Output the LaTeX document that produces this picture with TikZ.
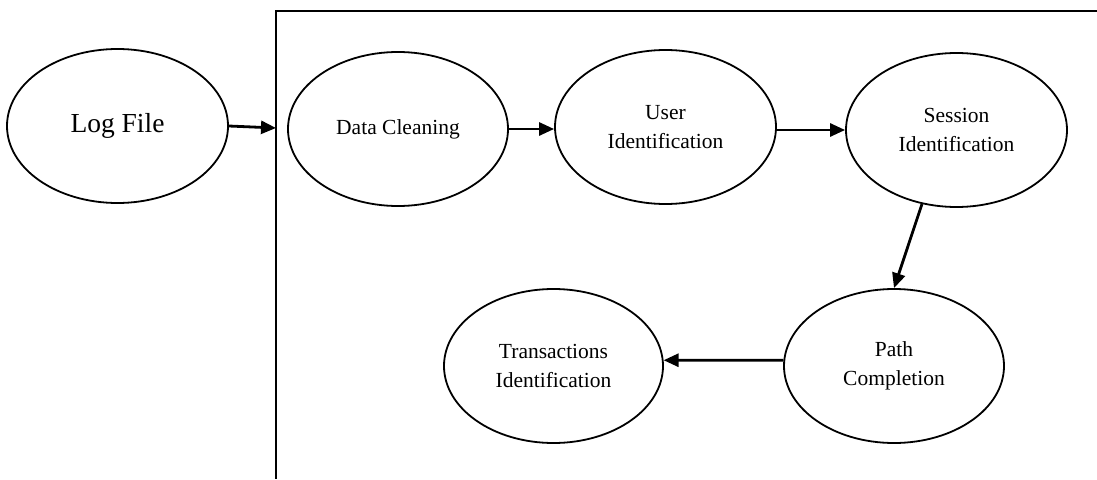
\documentclass[tikz,border=0pt]{standalone}
\usepackage{fontspec}
\setmainfont{Liberation Serif}
\usetikzlibrary{shapes.geometric,arrows.meta}
\begin{document}
\begin{tikzpicture}[x=1pt,y=-1pt,
  proc/.style={ellipse,draw,line width=1.8pt,minimum width=221pt,minimum height=154pt,inner sep=0pt,align=center,font=\fontsize{21.5}{28.5}\selectfont},
  flow/.style={line width=2.8pt,-{Triangle[length=15pt,width=13pt]}},
  frame/.style={line width=2.4pt}]
\path[fill=white,use as bounding box] (0,0) rectangle (1097,479);
\node[proc,font=\fontsize{27.5}{32}\selectfont] (log) at (117.5,126) {Log File};
\node[proc,minimum width=220pt] (dc) at (398,129) {Data Cleaning};
\node[proc] (ui) at (665.5,127) {User\\Identification};
\node[proc] (si) at (956.5,130) {Session\\Identification};
\node[proc,minimum width=220pt] (pc) at (894,366) {Path\\Completion};
\node[proc,minimum width=219pt] (ti) at (553.5,366) {Transactions\\Identification};
\coordinate (boxtl) at (276,11);
\coordinate (boxtr) at (1097,11);
\coordinate (boxbl) at (276,479);
\coordinate (boxin) at (276,128);
\draw[frame] (boxtr) -- (boxtl) -- (boxbl);
\draw[flow] (log.east) -- (boxin);
\draw[flow] (dc.east) -- (ui.west |- dc.east);
\draw[flow] (ui.east |- si.west) -- (si.west);
\draw[flow] (si.-115) -- (pc.north);
\draw[flow] (pc.177) -- (ti.3);
\end{tikzpicture}
\end{document}
